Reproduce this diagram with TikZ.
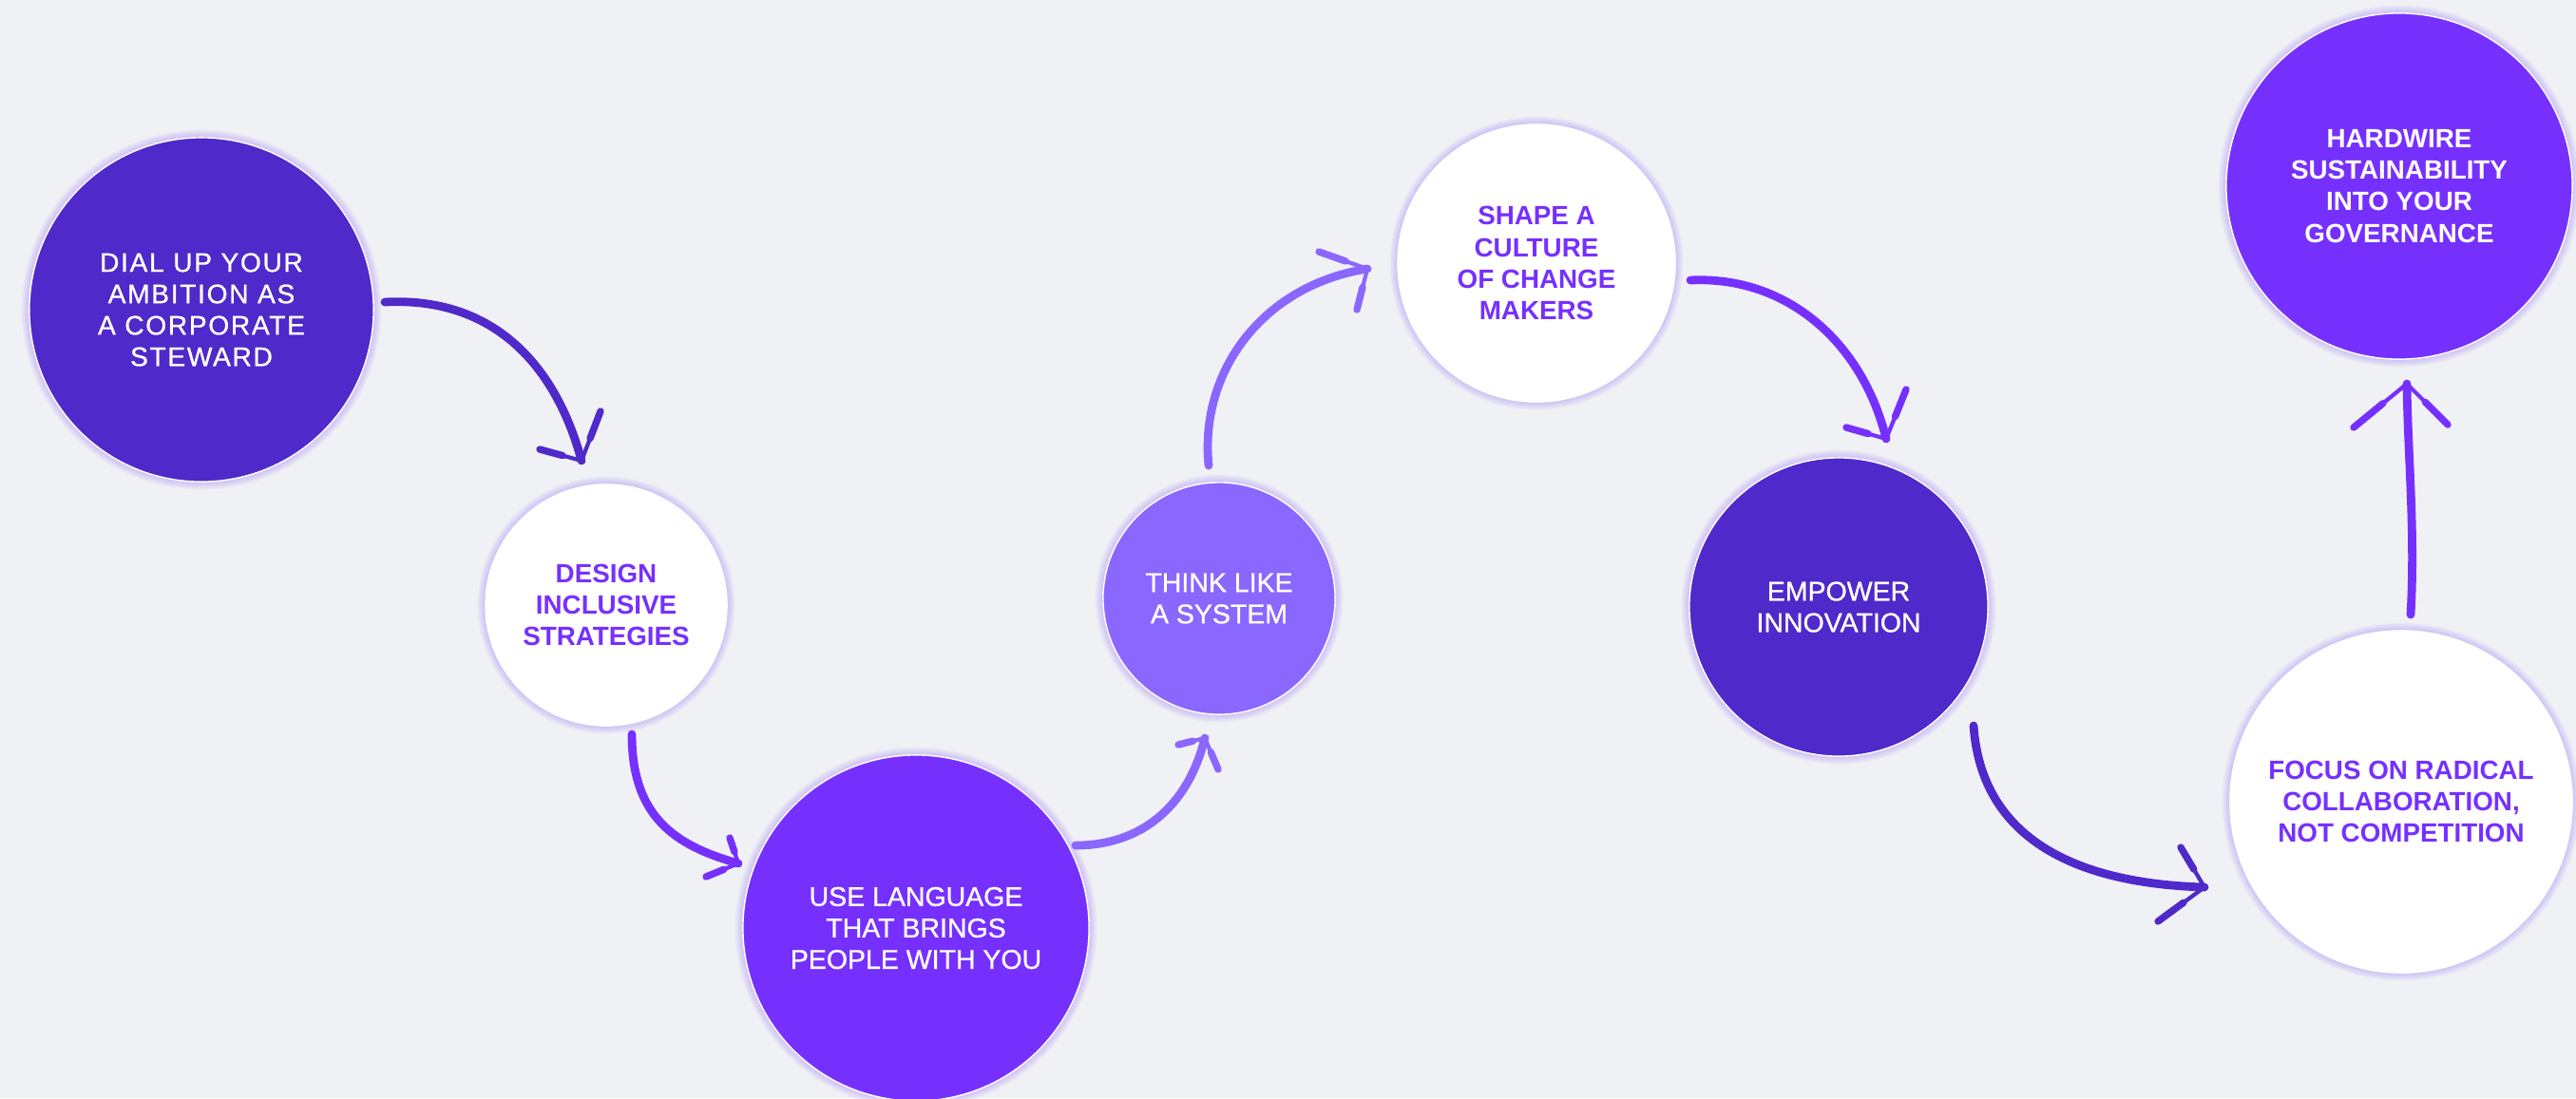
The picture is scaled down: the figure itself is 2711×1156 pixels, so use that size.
\documentclass[tikz,border=0pt]{standalone}
\usepackage{fontspec}
\usetikzlibrary{calc}
\setmainfont{Liberation Sans}
\newfontfamily\spacedfont[LetterSpace=6,FakeBold=0.9]{Liberation Sans}
\newfontfamily\medfont[FakeBold=0.9]{Liberation Sans}
\definecolor{bgc}{HTML}{F0F1F5}
\definecolor{darkp}{HTML}{4F29C9}
\definecolor{brightp}{HTML}{7630FE}
\definecolor{lightp}{HTML}{8A67FF}
\definecolor{glowc}{HTML}{A88AFF}
\newcommand{\myglow}[3]{\foreach \k in {1,...,6}{\fill[glowc,opacity=0.085] (#1,#2) circle[radius={(#3+1.4*\k)*0.01cm}];}}
\begin{document}
\begin{tikzpicture}[x=0.01cm,y=-0.01cm,
  circ/.style={circle, draw=white, line width=0.4pt, inner sep=0pt, align=center},
  regtext/.style={font=\medfont\fontsize{8.1}{9.4}\selectfont},
  boldtext/.style={font=\bfseries\fontsize{7.9}{9.4}\selectfont},
  shaft/.style={line width=2.5pt, line cap=round},
  wing/.style={line width=1.2pt, line cap=round},
  wingend/.style={line width=2.1pt, line cap=round}]
\fill[bgc] (0,0) rectangle (2711,1156);
\useasboundingbox (0,0) rectangle (2711,1156);
% glows
\myglow{212}{326}{181}
\myglow{638}{637}{127}
\myglow{964}{977}{182}
\myglow{1283}{630}{122}
\myglow{1617}{277}{146}
\myglow{1935}{639}{157}
\myglow{2527}{844}{180}
\myglow{2525}{196}{182}
% circles
\node[circ, fill=darkp, text=white, minimum size=3.62cm, font=\spacedfont\fontsize{8}{9.4}\selectfont] (c1) at (212,326) {DIAL UP YOUR\\AMBITION AS\\A CORPORATE\\STEWARD};
\node[circ, fill=white, text=brightp, minimum size=2.54cm, boldtext] (c2) at (638,637) {DESIGN\\INCLUSIVE\\STRATEGIES};
\node[circ, fill=brightp, text=white, minimum size=3.64cm, regtext] (c3) at (964,977) {USE LANGUAGE\\THAT BRINGS\\PEOPLE WITH YOU};
\node[circ, fill=lightp, text=white, minimum size=2.44cm, regtext] (c4) at (1283,630) {THINK LIKE\\A SYSTEM};
\node[circ, fill=white, text=brightp, minimum size=2.92cm, boldtext] (c5) at (1617,277) {SHAPE A\\CULTURE\\OF CHANGE\\MAKERS};
\node[circ, fill=darkp, text=white, minimum size=3.14cm, regtext] (c6) at (1935,639) {EMPOWER\\INNOVATION};
\node[circ, fill=white, text=brightp, minimum size=3.60cm, boldtext] (c7) at (2527,844) {FOCUS ON RADICAL\\COLLABORATION,\\NOT COMPETITION};
\node[circ, fill=brightp, text=white, minimum size=3.64cm, boldtext] (c8) at (2525,196) {HARDWIRE\\SUSTAINABILITY\\INTO YOUR\\GOVERNANCE};
% arrow end coordinates
\coordinate (a1s) at (405,318);  \coordinate (a1e) at (612,485);
\coordinate (a1l) at (568,473);  \coordinate (a1r) at (632,433);
\coordinate (a2s) at (665,773);  \coordinate (a2e) at (777,909);
\coordinate (a2l) at (768,882);  \coordinate (a2r) at (743,923);
\coordinate (a3s) at (1132,890); \coordinate (a3e) at (1268,777);
\coordinate (a3l) at (1240,784); \coordinate (a3r) at (1282,810);
\coordinate (a4s) at (1272,490); \coordinate (a4e) at (1439,283);
\coordinate (a4l) at (1388,265); \coordinate (a4r) at (1428,326);
\coordinate (a5s) at (1779,295); \coordinate (a5e) at (1985,462);
\coordinate (a5l) at (1943,450); \coordinate (a5r) at (2006,410);
\coordinate (a6s) at (2077,764); \coordinate (a6e) at (2320,934);
\coordinate (a6l) at (2295,892); \coordinate (a6r) at (2271,970);
\coordinate (a7s) at (2537,647); \coordinate (a7e) at (2533,404);
\coordinate (a7l) at (2477,450); \coordinate (a7r) at (2576,447);
% arrows
\foreach \n/\col/\cA/\cB in {1/darkp/{520,312}/{585,385}, 2/brightp/{665,860}/{710,890}, 3/lightp/{1200,890}/{1250,850}, 4/lightp/{1262,390}/{1330,300}, 5/brightp/{1880,290}/{1960,360}, 6/darkp/{2085,880}/{2180,930}, 7/brightp/{2542,560}/{2534,480}}{
  \draw[shaft, \col] (a\n s) .. controls (\cA) and (\cB) .. (a\n e);
  \draw[wing, \col] (a\n l) -- (a\n e) -- (a\n r);
  \draw[wingend, \col] ($(a\n e)!0.45!(a\n l)$) -- (a\n l);
  \draw[wingend, \col] ($(a\n e)!0.45!(a\n r)$) -- (a\n r);
}
\end{tikzpicture}
\end{document}
